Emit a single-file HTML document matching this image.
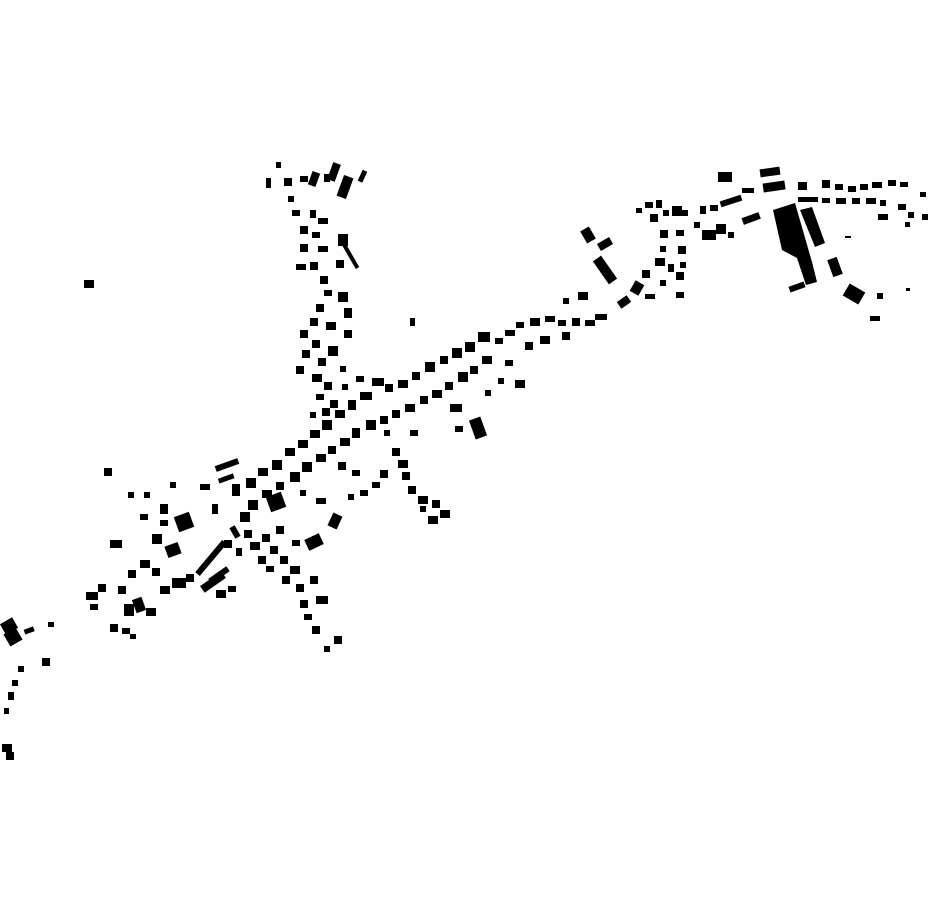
<!DOCTYPE html>
<html><head><meta charset="utf-8"><style>html,body{margin:0;padding:0;background:#fff}svg{display:block}</style></head>
<body>
<svg width="930" height="924" viewBox="0 0 930 924" xmlns="http://www.w3.org/2000/svg" fill="#000">
<!-- far east industrial -->
<polygon points="773,210 795,203 812,262 817,282 806,285 797,258 782,250"/>
<polygon points="800,210 812,207 825,243 815,247"/>
<rect x="760" y="168" width="20" height="8" transform="rotate(-8 770 172)"/>
<rect x="763" y="182" width="22" height="9" transform="rotate(-8 774 186)"/>
<rect x="718" y="172" width="14" height="10"/>
<rect x="798" y="182" width="9" height="8"/>
<rect x="798" y="197" width="20" height="5"/>
<rect x="742" y="215" width="18" height="7" transform="rotate(-20 751 218)"/>
<rect x="720" y="198" width="22" height="6" transform="rotate(-18 731 201)"/>
<rect x="742" y="188" width="12" height="5"/>
<rect x="789" y="284" width="16" height="6" transform="rotate(-20 797 287)"/>
<rect x="870" y="316" width="10" height="5"/>
<rect x="877" y="293" width="6" height="6"/>
<rect x="845" y="287" width="18" height="14" transform="rotate(30 854 294)"/>
<rect x="830" y="258" width="10" height="18" transform="rotate(-20 835 267)"/>
<!-- east ribbon -->
<g>
<rect x="822" y="180" width="8" height="8"/><rect x="835" y="184" width="8" height="6"/><rect x="848" y="186" width="8" height="6"/>
<rect x="860" y="184" width="8" height="6"/><rect x="872" y="182" width="10" height="6"/><rect x="888" y="180" width="8" height="6"/>
<rect x="900" y="182" width="8" height="5"/><rect x="920" y="192" width="6" height="5"/>
<rect x="822" y="198" width="8" height="5"/><rect x="836" y="198" width="10" height="6"/><rect x="852" y="198" width="8" height="6"/>
<rect x="866" y="198" width="10" height="6"/><rect x="880" y="200" width="6" height="6"/><rect x="898" y="204" width="8" height="6"/>
<rect x="908" y="212" width="6" height="6"/><rect x="922" y="214" width="6" height="6"/><rect x="878" y="214" width="10" height="6"/>
<rect x="905" y="222" width="5" height="5"/><rect x="845" y="236" width="6" height="2"/><rect x="906" y="288" width="4" height="3"/>
</g>
<!-- NE cluster around 650-740 -->
<g>
<rect x="636" y="208" width="6" height="5"/><rect x="645" y="202" width="8" height="6"/><rect x="656" y="200" width="6" height="8"/>
<rect x="650" y="214" width="8" height="8"/><rect x="663" y="210" width="6" height="6"/><rect x="672" y="206" width="10" height="10"/>
<rect x="682" y="210" width="6" height="6"/><rect x="700" y="206" width="6" height="8"/><rect x="710" y="205" width="8" height="6"/>
<rect x="702" y="230" width="14" height="10"/><rect x="716" y="224" width="10" height="10"/><rect x="728" y="232" width="6" height="6"/>
<rect x="660" y="230" width="8" height="8"/><rect x="676" y="230" width="8" height="6"/><rect x="660" y="246" width="6" height="6"/>
<rect x="678" y="246" width="8" height="8"/><rect x="655" y="258" width="10" height="8"/><rect x="668" y="264" width="6" height="8"/>
<rect x="680" y="262" width="6" height="6"/><rect x="676" y="272" width="8" height="8"/><rect x="642" y="270" width="8" height="8"/>
<rect x="660" y="280" width="6" height="6"/><rect x="676" y="292" width="8" height="6"/><rect x="645" y="294" width="10" height="5"/>
<rect x="632" y="282" width="10" height="12" transform="rotate(30 637 288)"/>
<rect x="618" y="298" width="12" height="8" transform="rotate(-35 624 302)"/>
<rect x="694" y="222" width="6" height="6"/>
</g>
<!-- Buildings near 590-620 -->
<rect x="583" y="228" width="10" height="14" transform="rotate(-30 588 235)"/>
<rect x="598" y="240" width="14" height="8" transform="rotate(-30 605 244)"/>
<rect x="600" y="256" width="10" height="28" transform="rotate(-35 605 270)"/>
<rect x="578" y="292" width="10" height="8"/>
<rect x="563" y="298" width="6" height="6"/>
<!-- main street -->
<g>
<rect x="595" y="314" width="12" height="6"/><rect x="585" y="320" width="10" height="6"/><rect x="572" y="318" width="8" height="8"/>
<rect x="558" y="320" width="8" height="6"/><rect x="545" y="316" width="10" height="6"/><rect x="530" y="318" width="10" height="8"/>
<rect x="516" y="322" width="8" height="6"/><rect x="505" y="330" width="10" height="6"/><rect x="495" y="338" width="8" height="6"/>
<rect x="478" y="332" width="12" height="10"/><rect x="465" y="342" width="10" height="10"/><rect x="452" y="348" width="10" height="10"/>
<rect x="440" y="356" width="8" height="8"/><rect x="425" y="362" width="10" height="10"/><rect x="412" y="372" width="8" height="8"/>
<rect x="398" y="380" width="10" height="8"/><rect x="385" y="384" width="8" height="8"/><rect x="372" y="378" width="12" height="8"/>
<rect x="360" y="392" width="12" height="8"/><rect x="348" y="400" width="8" height="10"/><rect x="335" y="410" width="10" height="8"/>
<rect x="322" y="420" width="10" height="10"/><rect x="310" y="430" width="10" height="8"/><rect x="298" y="440" width="10" height="8"/>
<rect x="285" y="448" width="10" height="8"/><rect x="272" y="460" width="10" height="10"/><rect x="258" y="468" width="10" height="8"/>
<rect x="246" y="478" width="10" height="10"/><rect x="232" y="484" width="8" height="12"/>
<rect x="540" y="336" width="10" height="8"/><rect x="525" y="342" width="8" height="8"/><rect x="562" y="332" width="8" height="8"/>
<rect x="505" y="360" width="8" height="6"/><rect x="515" y="380" width="10" height="8"/><rect x="498" y="378" width="6" height="6"/>
<rect x="482" y="356" width="10" height="8"/><rect x="470" y="366" width="8" height="8"/><rect x="458" y="372" width="10" height="10"/>
<rect x="445" y="382" width="8" height="8"/><rect x="432" y="390" width="10" height="8"/><rect x="420" y="396" width="8" height="8"/>
<rect x="405" y="404" width="10" height="8"/><rect x="392" y="410" width="8" height="8"/><rect x="380" y="416" width="8" height="8"/>
<rect x="366" y="420" width="10" height="10"/><rect x="352" y="428" width="8" height="10"/><rect x="340" y="438" width="10" height="8"/>
<rect x="328" y="446" width="8" height="8"/><rect x="316" y="454" width="10" height="8"/><rect x="302" y="462" width="10" height="10"/>
<rect x="290" y="472" width="10" height="10"/><rect x="276" y="482" width="8" height="8"/><rect x="262" y="490" width="10" height="8"/>
<rect x="248" y="500" width="10" height="10"/><rect x="240" y="512" width="10" height="10"/>
<rect x="450" y="404" width="12" height="8"/><rect x="472" y="418" width="12" height="20" transform="rotate(-20 478 428)"/>
<rect x="455" y="426" width="8" height="6"/><rect x="485" y="390" width="6" height="6"/>
<rect x="215" y="462" width="24" height="6" transform="rotate(-20 227 465)"/>
<rect x="218" y="476" width="16" height="5" transform="rotate(-20 226 478)"/>
<rect x="200" y="484" width="10" height="6"/>
<rect x="268" y="494" width="16" height="16" transform="rotate(-20 276 502)"/>
<rect x="338" y="462" width="8" height="8"/><rect x="352" y="470" width="8" height="6"/>
<rect x="316" y="498" width="10" height="6"/><rect x="300" y="490" width="6" height="6"/>
<rect x="330" y="514" width="10" height="14" transform="rotate(25 335 521)"/>
<rect x="306" y="536" width="16" height="12" transform="rotate(-25 314 542)"/>
<rect x="410" y="318" width="5" height="8"/>
</g>
<!-- south branch 2 (380-450) -->
<g>
<rect x="392" y="448" width="8" height="8"/><rect x="398" y="460" width="10" height="8"/><rect x="402" y="472" width="8" height="8"/>
<rect x="408" y="486" width="8" height="8"/><rect x="418" y="496" width="10" height="8"/><rect x="432" y="500" width="8" height="8"/>
<rect x="440" y="510" width="10" height="8"/><rect x="428" y="516" width="10" height="8"/><rect x="420" y="506" width="6" height="6"/>
<rect x="380" y="470" width="8" height="8"/><rect x="372" y="482" width="8" height="6"/><rect x="360" y="490" width="8" height="6"/>
<rect x="348" y="494" width="6" height="6"/><rect x="384" y="430" width="6" height="6"/><rect x="410" y="430" width="8" height="6"/>
</g>
<!-- south branch 1 (250-340) -->
<g>
<rect x="244" y="530" width="8" height="8"/><rect x="250" y="542" width="10" height="8"/><rect x="262" y="534" width="8" height="8"/>
<rect x="270" y="546" width="8" height="8"/><rect x="258" y="556" width="8" height="8"/><rect x="266" y="566" width="8" height="6"/>
<rect x="280" y="556" width="8" height="8"/><rect x="290" y="566" width="10" height="8"/><rect x="282" y="576" width="8" height="8"/>
<rect x="296" y="584" width="8" height="8"/><rect x="310" y="576" width="8" height="8"/><rect x="300" y="600" width="8" height="8"/>
<rect x="316" y="596" width="12" height="8"/><rect x="304" y="614" width="8" height="6"/><rect x="312" y="626" width="8" height="8"/>
<rect x="334" y="636" width="8" height="8"/><rect x="324" y="646" width="6" height="6"/><rect x="276" y="526" width="8" height="8"/>
<rect x="292" y="540" width="8" height="6"/><rect x="232" y="526" width="6" height="12" transform="rotate(-30 235 532)"/>
</g>
<!-- west town -->
<g>
<rect x="176" y="514" width="16" height="16" transform="rotate(-20 184 522)"/>
<rect x="190" y="555" width="42" height="6" transform="rotate(-50 211 558)"/>
<rect x="200" y="578" width="26" height="8" transform="rotate(-35 213 582)"/>
<rect x="208" y="572" width="22" height="6" transform="rotate(-35 219 575)"/>
<rect x="224" y="540" width="8" height="8"/><rect x="236" y="548" width="6" height="8"/>
<rect x="166" y="544" width="14" height="12" transform="rotate(-20 173 550)"/>
<rect x="152" y="534" width="10" height="10"/><rect x="160" y="520" width="8" height="6"/>
<rect x="110" y="540" width="12" height="8"/><rect x="140" y="514" width="8" height="6"/><rect x="128" y="492" width="6" height="6"/>
<rect x="104" y="468" width="8" height="8"/><rect x="170" y="482" width="6" height="6"/><rect x="160" y="504" width="8" height="10"/>
<rect x="128" y="570" width="8" height="8"/><rect x="140" y="560" width="10" height="8"/><rect x="152" y="568" width="8" height="8"/>
<rect x="160" y="586" width="10" height="8"/><rect x="172" y="578" width="14" height="10"/><rect x="186" y="574" width="8" height="8"/>
<rect x="118" y="586" width="8" height="8"/><rect x="124" y="604" width="10" height="12"/><rect x="134" y="598" width="10" height="14" transform="rotate(-20 139 605)"/>
<rect x="146" y="608" width="10" height="8"/><rect x="86" y="592" width="12" height="8"/><rect x="98" y="584" width="8" height="8"/>
<rect x="90" y="604" width="8" height="6"/><rect x="110" y="624" width="8" height="8"/><rect x="122" y="628" width="8" height="6"/>
<rect x="130" y="634" width="6" height="5"/><rect x="216" y="590" width="10" height="8"/><rect x="228" y="586" width="8" height="6"/>
<rect x="212" y="504" width="6" height="10"/><rect x="144" y="492" width="6" height="6"/>
</g>
<!-- north branch -->
<g>
<rect x="330" y="163" width="8" height="18" transform="rotate(20 334 172)"/>
<rect x="340" y="176" width="10" height="22" transform="rotate(20 345 187)"/>
<rect x="360" y="170" width="5" height="12" transform="rotate(25 362 176)"/>
<rect x="310" y="172" width="8" height="14" transform="rotate(20 314 179)"/>
<rect x="324" y="174" width="6" height="8"/><rect x="300" y="176" width="8" height="6"/><rect x="284" y="178" width="8" height="8"/>
<rect x="266" y="178" width="5" height="10"/><rect x="276" y="162" width="5" height="6"/>
<rect x="288" y="196" width="6" height="6"/><rect x="292" y="210" width="8" height="6"/><rect x="310" y="210" width="6" height="8"/>
<rect x="318" y="218" width="10" height="6"/><rect x="300" y="226" width="8" height="8"/><rect x="312" y="232" width="8" height="6"/>
<rect x="300" y="244" width="8" height="8"/><rect x="318" y="246" width="10" height="6"/><rect x="338" y="234" width="10" height="12"/>
<rect x="348" y="240" width="4" height="30" transform="rotate(-30 350 255)"/>
<rect x="296" y="264" width="10" height="6"/><rect x="310" y="262" width="8" height="8"/><rect x="336" y="260" width="8" height="8"/>
<rect x="320" y="276" width="8" height="8"/><rect x="324" y="290" width="8" height="6"/><rect x="338" y="292" width="10" height="10"/>
<rect x="316" y="304" width="8" height="8"/><rect x="344" y="308" width="8" height="10"/><rect x="310" y="318" width="8" height="8"/>
<rect x="326" y="322" width="10" height="8"/><rect x="300" y="330" width="8" height="8"/><rect x="344" y="330" width="8" height="8"/>
<rect x="312" y="340" width="8" height="8"/><rect x="328" y="346" width="10" height="10"/><rect x="302" y="350" width="8" height="8"/>
<rect x="318" y="358" width="8" height="8"/><rect x="296" y="366" width="8" height="8"/><rect x="340" y="366" width="6" height="6"/>
<rect x="312" y="374" width="10" height="8"/><rect x="324" y="382" width="8" height="8"/><rect x="316" y="394" width="8" height="6"/>
<rect x="330" y="400" width="8" height="8"/><rect x="322" y="408" width="8" height="8"/><rect x="310" y="412" width="6" height="6"/>
<rect x="342" y="384" width="6" height="6"/><rect x="356" y="376" width="8" height="6"/>
</g>
<!-- isolated / far west -->
<rect x="84" y="280" width="10" height="8"/>
<rect x="2" y="620" width="14" height="12" transform="rotate(-30 9 626)"/>
<rect x="6" y="630" width="14" height="14" transform="rotate(-30 13 637)"/>
<rect x="24" y="628" width="10" height="5" transform="rotate(-20 29 630)"/>
<rect x="48" y="622" width="6" height="5"/><rect x="42" y="658" width="8" height="8"/>
<rect x="18" y="666" width="6" height="6"/><rect x="12" y="680" width="6" height="6"/><rect x="8" y="692" width="6" height="8"/>
<rect x="4" y="708" width="5" height="6"/><rect x="2" y="744" width="10" height="8"/><rect x="6" y="752" width="8" height="8"/>
</svg>
</body></html>
